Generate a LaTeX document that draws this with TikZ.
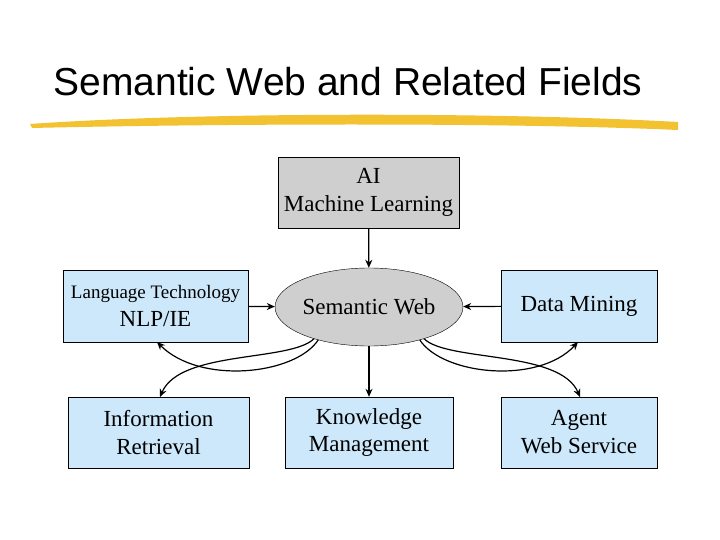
\documentclass[tikz,border=0pt]{standalone}
\usepackage{fontspec}
\setmainfont{Liberation Serif}
\newfontfamily\titlefont{Liberation Sans}
\usetikzlibrary{shapes.geometric,arrows.meta}
\definecolor{boxblue}{HTML}{CCE8FA}
\definecolor{boxgray}{HTML}{CFCFCF}
\definecolor{brush}{HTML}{F2C230}
\tikzset{
  bx/.style={draw, fill=boxblue, inner sep=0pt, align=center, font=\fontsize{23}{28}\selectfont},
  conn/.style={-{Stealth[length=8pt,width=7pt]}, line width=1.2pt},
}
\begin{document}
\begin{tikzpicture}[x=1pt,y=-1pt]
\useasboundingbox (0,0) rectangle (720,540);
\fill[white] (0,0) rectangle (720,540);
\node[font=\titlefont\fontsize{39}{44}\selectfont] (title) at (348,82) {Semantic Web and Related Fields};
\fill[brush] (30,124) .. controls (200,112) and (500,112) .. (678,122) -- (678,130) .. controls (500,122) and (200,124) .. (32,128) -- cycle;
\node[bx, fill=boxgray, minimum width=181pt, minimum height=71pt] (ai) at (368.5,192.5) {AI\\Machine Learning};
\node[bx, minimum width=185pt, minimum height=72pt] (lt) at (155.5,306) {{\fontsize{19}{22}\selectfont Language Technology}\\[0pt]NLP/IE};
\node[draw, ellipse, fill=boxgray, minimum width=168pt, minimum height=78pt, inner sep=0pt, font=\fontsize{23}{28}\selectfont] (sw) at (369,307) {Semantic Web};
\node[bx, minimum width=156pt, minimum height=72pt] (dm) at (579,306) {Data Mining};
\node[bx, minimum width=181pt, minimum height=71pt] (ir) at (158.5,432.5) {Information\\Retrieval};
\node[bx, minimum width=168pt, minimum height=71pt] (km) at (369,432.5) {Knowledge\\Management};
\node[bx, minimum width=156pt, minimum height=71pt] (ag) at (579,432.5) {Agent\\Web Service};
\draw[conn] (ai) -- (sw);
\draw[conn] (lt) -- (sw);
\draw[conn] (dm) -- (sw);
\draw[conn] (sw) -- (km);
\draw[conn] (sw.-147) .. controls (295,375) and (200,385) .. (157,342);
\draw[conn] (sw.-150) .. controls (290,362) and (180,350) .. (160,397);
\draw[conn] (sw.-33) .. controls (443,375) and (538,385) .. (578,342);
\draw[conn] (sw.-30) .. controls (448,362) and (560,350) .. (580,397);
\end{tikzpicture}
\end{document}
